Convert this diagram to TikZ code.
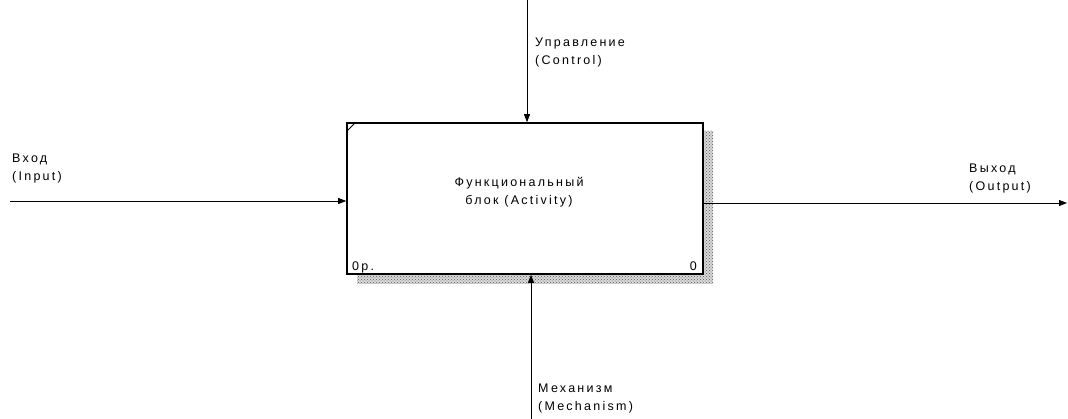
\documentclass[tikz,border=0pt]{standalone}
\usepackage{fontspec}
\setmainfont{Liberation Sans}[LetterSpace=18]
\usetikzlibrary{arrows.meta,patterns}
\begin{document}
\begin{tikzpicture}[x=1pt,y=-1pt,
  lbl/.style={font=\fontsize{12.5}{18}\selectfont, align=left, anchor=base west, inner sep=0pt},
  arr/.style={line width=0.8pt, -{Triangle[length=8pt,width=6pt]}},
  fbox/.style={draw, line width=1.6pt, fill=white, minimum width=356pt, minimum height=151pt, inner sep=0pt}]
\useasboundingbox (0,0) rectangle (1068,419);
% shadow
\fill[gray!30] (357,131) rectangle (713,284);
\fill[pattern=crosshatch dots, pattern color=gray!70!black] (357,131) rectangle (713,284);
\node[fbox] (act) at (525,198.5) {};
\draw[line width=0.8pt] (347,131) -- (355,123);
\node[lbl, align=center, anchor=base] (actlbl) at (519,205) {Функциональный\\блок (Activity)};
\node[lbl] (num) at (352,271) {0р.};
\node[lbl, anchor=base east] (nr) at (697,271) {0};
% connectors
\coordinate (inS) at (10,201);
\coordinate (ctS) at (527,0);
\coordinate (meS) at (531,419);
\coordinate (ouE) at (1067,203);
\draw[arr] (inS) -- (inS -| act.west);
\draw[arr] (ctS) -- (ctS |- act.north);
\draw[arr] (meS) -- (meS |- act.south);
\draw[arr] (ouE -| act.east) -- (ouE);
% labels
\node[lbl] (inL) at (12,181) {Вход\\(Input)};
\node[lbl] (ctL) at (535,65) {Управление\\(Control)};
\node[lbl] (ouL) at (969,191) {Выход\\(Output)};
\node[lbl] (meL) at (538,410) {Механизм\\(Mechanism)};
\end{tikzpicture}
\end{document}
